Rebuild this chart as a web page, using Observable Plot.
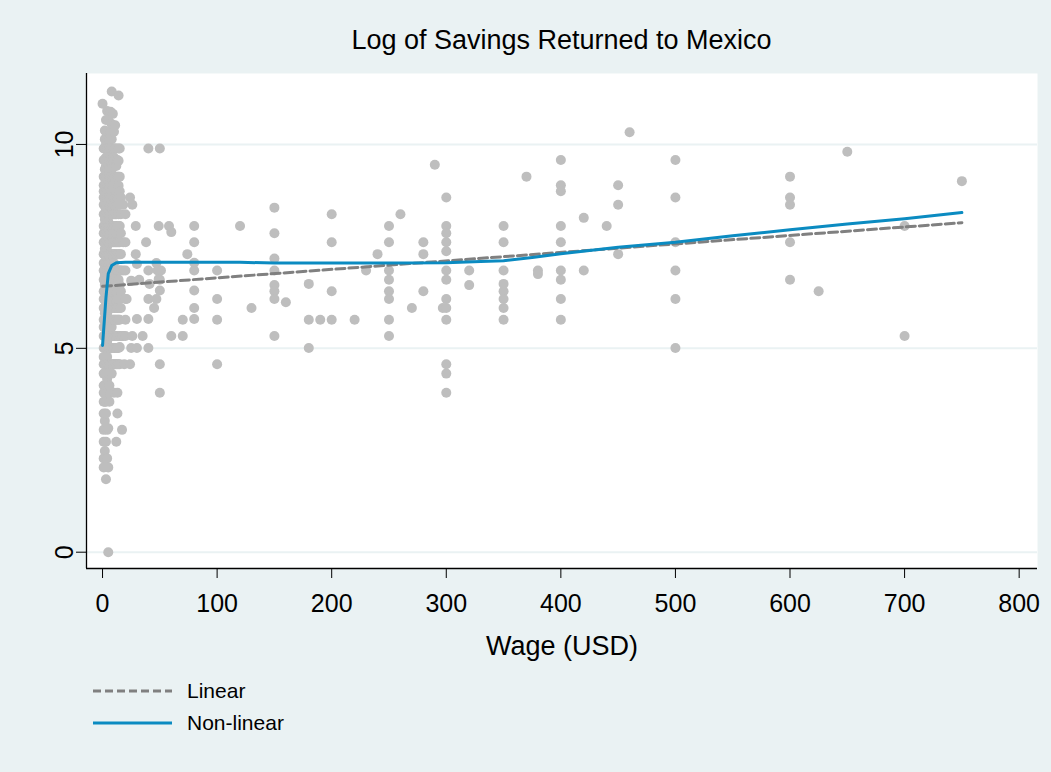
<!DOCTYPE html>
<html><head><meta charset="utf-8">
<script src="https://cdn.jsdelivr.net/npm/d3@7"></script>
<script src="https://cdn.jsdelivr.net/npm/@observablehq/plot@0.6"></script>
<style>
body{margin:0;background:#eaf2f3;}
#wrap{position:relative;width:1051px;height:772px;background:#eaf2f3;font-family:"Liberation Sans",Arial,sans-serif;color:#000;}
#title{height:60px;box-sizing:border-box;padding-top:26px;padding-left:72px;font-size:27px;line-height:28px;text-align:center;}
#chart{height:620px;}
#legend{position:relative;height:92px;}
.row{position:absolute;left:0;height:32px;display:flex;align-items:center;font-size:21px;}
.row svg{position:absolute;left:92px;top:0;}
.row span{position:absolute;left:187px;white-space:nowrap;}
</style></head>
<body>
<div id="wrap">
  <div id="title">Log of Savings Returned to Mexico</div>
  <div id="chart"></div>
  <div id="legend"></div>
</div>
<script>
// Dense cluster of low wages: wage value and its log savings observations
const clusterWages = [1,2,3,4,5,6,7,8,9,10,11,12,13,14,15,16,17,18,19,20];
const clusterSavings = [
  [9.9,9.62,9.21,9.0,8.85,8.7,8.52,8.29,8.0,7.82,7.6,7.31,7.09,6.91,6.68,6.4,6.21,5.99,5.7,5.52,5.3,5.01,4.79,4.61,4.38,4.09,3.91,3.69,3.4,3.0,2.71,2.3,2.08],
  [10.34,10.13,9.9,9.62,9.39,9.21,8.99,8.7,8.52,8.29,8.16,8.0,7.82,7.6,7.44,7.31,7.09,6.91,6.8,6.68,6.55,6.4,6.21,5.99,5.86,5.7,5.52,5.3,5.01,4.61,4.38,3.91,3.69,3.22,2.48],
  [10.6,10.31,10.0,9.9,9.68,9.47,9.21,9.1,8.85,8.7,8.52,8.41,8.29,8.0,7.9,7.82,7.6,7.31,7.24,7.09,6.91,6.68,6.55,6.4,6.21,6.11,5.99,5.7,5.3,5.01,4.61,4.09,3.69,3.4,2.71,1.79],
  [10.82,10.13,9.9,9.62,9.39,9.21,9.0,8.85,8.7,8.52,8.29,8.0,7.82,7.6,7.5,7.31,7.09,6.91,6.8,6.68,6.4,6.21,5.99,5.86,5.7,5.52,5.3,5.16,5.01,4.79,4.61,4.25,3.91,3.0,2.3],
  [10.6,10.31,9.9,9.74,9.54,9.21,9.0,8.7,8.52,8.29,8.11,8.0,7.82,7.6,7.31,7.09,6.91,6.68,6.4,6.21,5.99,5.7,5.52,5.3,5.01,4.61,4.38,3.91,3.04,2.08,0],
  [10.13,9.9,9.62,9.39,9.21,8.99,8.7,8.52,8.29,8.0,7.82,7.6,7.31,7.09,6.91,6.68,6.55,6.4,6.21,5.99,5.7,5.3,5.01,4.61,4.09,3.69],
  [10.8,10.31,9.9,9.62,9.21,9.0,8.7,8.52,8.29,8.0,7.82,7.6,7.31,7.09,6.91,6.68,6.4,6.21,5.99,5.7,5.3,5.01,4.61,3.91],
  [11.3,10.5,10.13,9.9,9.62,9.39,9.21,8.85,8.7,8.52,8.29,8.0,7.82,7.6,7.31,7.09,6.91,6.68,6.4,6.21,5.99,5.7,5.52,5.3,5.01,4.61,4.38],
  [10.75,9.9,9.62,9.21,9.0,8.7,8.52,8.29,8.0,7.82,7.6,7.31,6.91,6.68,6.4,6.21,5.99,5.7,5.3,5.01,4.61],
  [10.31,9.9,9.68,9.21,9.0,8.7,8.52,8.29,8.0,7.82,7.6,7.31,7.09,6.91,6.68,6.4,6.21,5.99,5.7,5.3,5.01,4.61,3.91],
  [10.47,9.9,9.62,9.21,8.7,8.52,8.29,8.0,7.6,7.31,6.91,6.55,6.21,5.99,5.7,5.3,5.01,4.61],
  [9.9,9.47,9.21,8.85,8.7,8.52,8.29,8.0,7.82,7.6,7.31,6.91,6.68,6.4,6.21,5.99,5.7,5.3,5.01,4.61,2.71],
  [9.62,9.21,8.7,8.52,8.0,7.6,7.31,6.91,6.4,6.21,5.99,5.7,5.3,5.01,4.61,3.91,3.4],
  [11.2,9.9,9.6,9.21,8.99,8.7,8.29,8.0,7.6,7.31,6.91,6.68,6.21,5.99,5.7,5.3,5.01,4.61],
  [9.9,9.21,8.85,8.52,8.0,7.6,7.31,6.91,6.55,6.21,5.99,5.7,5.3,5.03,4.61],
  [8.7,8.29,7.82,7.31,6.91,6.4,5.99,5.3],
  [3.0,5.3],
  [8.52,7.6,6.91,5.3],
  [4.61],
  [8.29,7.6,6.91,6.21,5.7,5.3]
];
// Other observations (wage, log savings)
const spreadWage = [0,21,24,26,24,25,25,26,29,29,30,30,30,32,35,38,40,40,40,40,40,41,45,47,48,47,49,49,50,50,50,50,50,51,58,60,60,70,70,74,80,80,80,80,80,80,80,100,100,100,100,120,130,150,150,150,150,150,150,150,150,160,180,180,180,190,200,200,200,200,220,230,240,250,250,250,250,250,250,250,250,260,270,280,280,280,290,300,300,300,300,300,300,300,300,297,300,300,300,300,300,320,320,350,350,350,350,350,350,350,350,370,380,380,400,400,400,400,400,400,400,400,400,420,420,440,450,450,450,460,500,500,500,500,500,500,600,600,600,600,600,625,650,700,700,750];
const spreadLogSav = [11.0,6.21,8.7,8.52,4.61,5.01,6.66,5.3,8.0,7.31,7.07,5.72,5.01,6.68,5.3,7.6,9.9,6.91,6.21,5.72,5.01,6.58,5.99,7.09,6.91,6.21,8.0,6.7,9.9,6.68,6.42,4.61,3.91,6.91,8.0,7.85,5.3,5.7,5.3,7.31,8.0,7.6,7.1,6.91,6.42,5.99,5.72,6.91,6.21,5.7,4.61,8.0,5.99,8.45,7.82,7.2,6.91,6.55,6.4,6.21,5.3,6.13,6.58,5.7,5.01,5.7,8.29,7.6,6.4,5.7,5.7,6.91,7.31,8.0,7.6,6.91,6.68,6.4,6.21,5.7,5.3,8.29,5.99,7.6,7.31,6.4,9.5,8.7,8.0,7.82,7.6,7.38,6.91,6.68,6.21,5.99,5.99,5.7,4.61,4.38,3.91,6.91,6.55,8.0,7.6,6.91,6.58,6.4,6.21,5.99,5.7,9.21,6.91,6.82,9.62,9.0,8.85,8.0,7.6,6.91,6.68,6.21,5.7,8.2,6.91,8.0,9.0,8.52,7.31,10.3,9.62,8.7,7.6,6.91,6.21,5.01,9.21,8.7,8.52,7.6,6.68,6.4,9.82,8.0,5.3,9.1];
// Fitted lines
const linearWage = [0, 750];
const linearFit = [6.52, 8.08];
const smoothWage = [0,3,5,8,12,20,50,120,150,200,250,300,330,350,375,400,450,500,550,600,650,700,750];
const smoothFit = [5.07,6.25,6.83,7.03,7.10,7.11,7.11,7.11,7.09,7.09,7.09,7.10,7.13,7.15,7.23,7.32,7.48,7.60,7.76,7.91,8.05,8.18,8.33];
const xTicks = [0,100,200,300,400,500,600,700,800];
const yTicks = [0,5,10];
const seriesNames = ["Linear", "Non-linear"];
const seriesColors = ["#808080", "#0b8bc1"];

const points = [];
clusterWages.forEach((w, i) => clusterSavings[i].forEach(s => points.push({wage: w, sav: s})));
spreadWage.forEach((w, i) => points.push({wage: w, sav: spreadLogSav[i]}));
const linearLine = linearWage.map((w, i) => ({wage: w, fit: linearFit[i]}));
const smoothLine = smoothWage.map((w, i) => ({wage: w, fit: smoothFit[i]}));

const xMin = -14, xMax = 816, yMin = -0.4, yMax = 11.74;
const font = "'Liberation Sans', Arial, sans-serif";

const chart = Plot.plot({
  width: 1051, height: 620,
  marginLeft: 86, marginRight: 14, marginTop: 13, marginBottom: 112,
  style: {background: "transparent", fontFamily: font, color: "black"},
  x: {domain: [xMin, xMax]},
  y: {domain: [yMin, yMax]},
  marks: [
    Plot.frame({fill: "white", stroke: "none"}),
    Plot.ruleY(yTicks, {stroke: "#eaf2f3", strokeWidth: 2}),
    Plot.dot(points, {x: "wage", y: "sav", r: 5, fill: "#bebebe"}),
    Plot.line(linearLine, {x: "wage", y: "fit", stroke: seriesColors[0], strokeWidth: 3, strokeDasharray: "9,4"}),
    Plot.line(smoothLine, {x: "wage", y: "fit", stroke: seriesColors[1], strokeWidth: 3}),
    Plot.ruleX([xMin], {stroke: "black", strokeWidth: 1.3}),
    Plot.ruleY([yMin], {stroke: "black", strokeWidth: 1.3}),
    Plot.axisX({ticks: xTicks, tickSize: 10, tickPadding: 16, fontSize: 25, label: null}),
    Plot.axisY({ticks: yTicks, tickSize: 10, tickPadding: 4, tickRotate: -90, fontSize: 25, label: null}),
    Plot.text(["Wage (USD)"], {text: d => d, frameAnchor: "bottom", dy: 86, fontSize: 27})
  ]
});
document.getElementById("chart").appendChild(chart);

const legend = document.getElementById("legend");
seriesNames.forEach((name, i) => {
  const row = document.createElement("div");
  row.className = "row";
  row.style.top = (i === 0 ? -5 : 27) + "px";
  row.innerHTML = `<svg width="82" height="32"><line x1="1" x2="80" y1="16" y2="16" stroke="${seriesColors[i]}" stroke-width="3" ${i === 0 ? 'stroke-dasharray="8,4"' : ''}/></svg><span>${name}</span>`;
  legend.appendChild(row);
});
</script>
</body></html>
